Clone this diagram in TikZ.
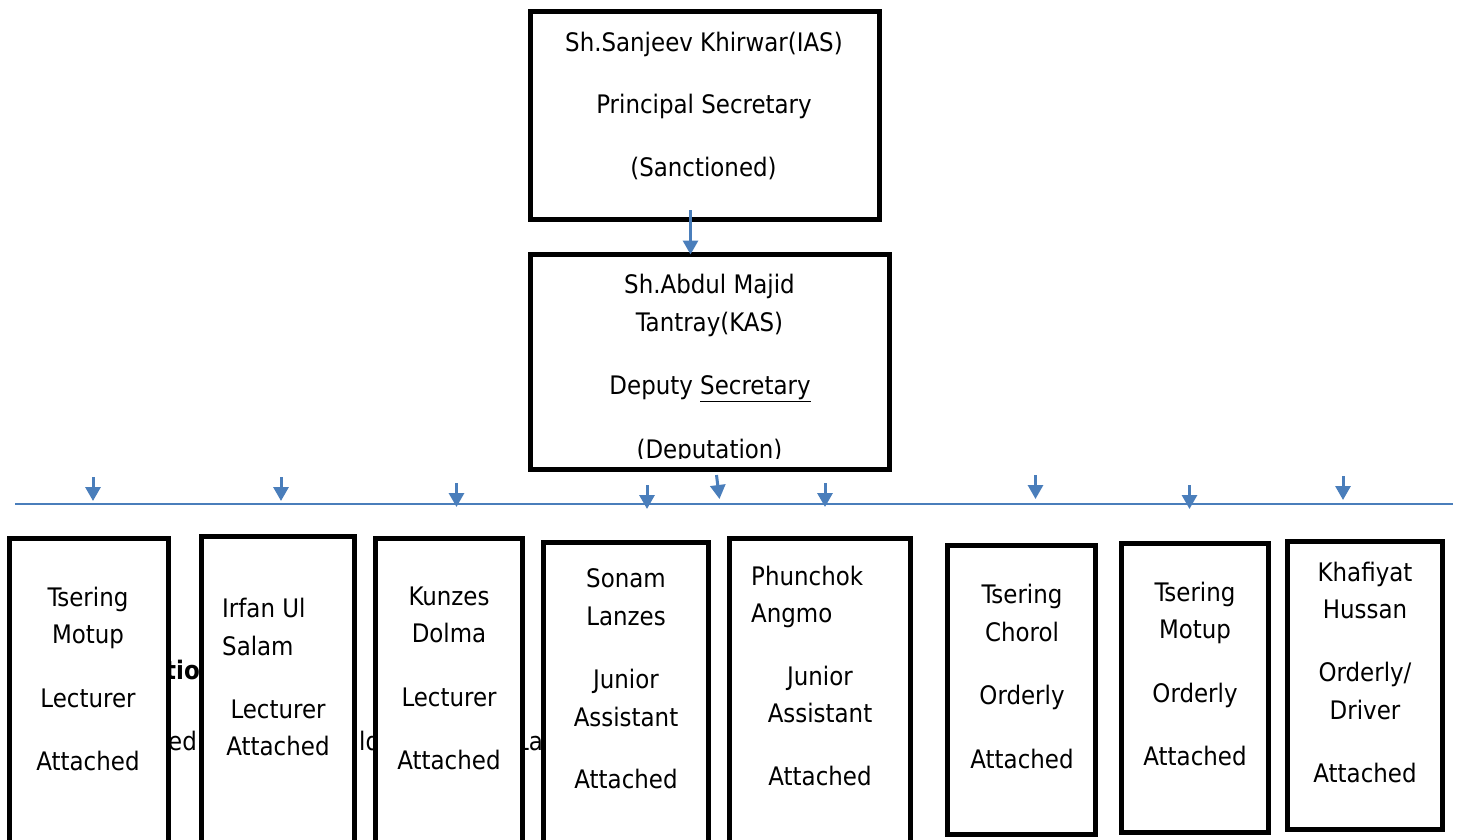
\documentclass[tikz,border=0pt]{standalone}
\usepackage{fontspec}
\setmainfont{DejaVu Sans Condensed}
\usetikzlibrary{arrows.meta,fit}
\definecolor{connblue}{RGB}{74,126,187}
\begin{document}
\begin{tikzpicture}[x=1pt,y=-1pt,
  box/.style={draw=black,line width=5pt,fill=white,inner sep=0pt,outer sep=0pt},
  txt/.style={inner sep=0pt,font=\fontsize{25.5}{30}\selectfont},
  frag/.style={inner sep=0pt,font=\fontsize{25.5}{30}\selectfont,anchor=base west},
  conn/.style={draw=connblue,line width=3pt,-{Triangle[width=15pt,length=14pt]}},
  bus/.style={draw=connblue,line width=2pt}
]
\clip (0,0) rectangle (1458,839);
\fill[white] (0,0) rectangle (1458,839);

% hidden background text fragments
\node[frag,font=\fontsize{25.5}{30}\selectfont\bfseries] (f1) at (165,679) {tio};
\node[frag] (f2) at (168,750) {ed};
\node[frag] (f3) at (359,750) {ld};
\node[frag] (f4) at (516,750) {La};

% top boxes
\node[box,minimum width=349.5pt,minimum height=208pt] (ps) at (704.75,115.5) {};
\node[txt,anchor=base] (ps1) at (704,51) {Sh.Sanjeev Khirwar(IAS)};
\node[txt,anchor=base] (ps2) at (704,113) {Principal Secretary};
\node[txt,anchor=base] (ps3) at (703.5,176) {(Sanctioned)};

\node[box,minimum width=358.5pt,minimum height=215pt] (ds) at (709.75,362) {};
\node[txt,anchor=base] (ds1) at (709.5,293) {Sh.Abdul Majid};
\node[txt,anchor=base] (ds2) at (709.5,331) {Tantray(KAS)};
\node[txt,anchor=base] (ds3) at (710,394) {Deputy \underline{Secretary}};
\begin{scope}
\clip (533,257) rectangle (887,458.5);
\node[txt,anchor=base] (ds4) at (709.5,458) {(Deputation)};
\end{scope}

% main connector
\coordinate (pss) at (690.5,210);
\draw[conn] (pss) -- (pss |- ds.north);

% bus line
\coordinate (busw) at (15,504);
\coordinate (buse) at (1453,504);
\draw[bus] (busw) -- (buse);

% small arrows
\foreach \n/\xa/\ya/\xb/\yb in {1/93/477/93/501,2/281/477/281/501,3/456.5/483/456.5/507,4/647/485/647/509,5/716.5/475/719.5/499,6/825/483/825/507,7/1035.5/475/1035.5/499,8/1189.5/485/1189.5/509,9/1343/476/1343/500}{
  \coordinate (a\n s) at (\xa,\ya);
  \coordinate (a\n e) at (\xb,\yb);
  \draw[conn] (a\n s) -- (a\n e);
}

% lower boxes
\node[box,minimum width=159pt,minimum height=331.5pt] (b1) at (89,704.25) {};
\node[box,minimum width=153pt,minimum height=333.5pt] (b2) at (278,703.25) {};
\node[box,minimum width=147.5pt,minimum height=331.5pt] (b3) at (448.75,704.25) {};
\node[box,minimum width=165pt,minimum height=327.5pt] (b4) at (626,706.25) {};
\node[box,minimum width=181pt,minimum height=331.5pt] (b5) at (820,704.25) {};
\node[box,minimum width=148pt,minimum height=289pt] (b6) at (1021.5,690) {};
\node[box,minimum width=147pt,minimum height=288.5pt] (b7) at (1195,687.75) {};
\node[box,minimum width=155pt,minimum height=287.5pt] (b8) at (1365,685.25) {};

% box 1
\node[txt,anchor=base] (b1a) at (88,606) {Tsering};
\node[txt,anchor=base] (b1b) at (88,643) {Motup};
\node[txt,anchor=base] (b1c) at (88,707) {Lecturer};
\node[txt,anchor=base] (b1d) at (88,770) {Attached};
% box 2
\node[txt,anchor=base west] (b2a) at (222,617) {Irfan Ul};
\node[txt,anchor=base west] (b2b) at (222,655) {Salam};
\node[txt,anchor=base] (b2c) at (278,718) {Lecturer};
\node[txt,anchor=base] (b2d) at (278,755) {Attached};
% box 3
\node[txt,anchor=base] (b3a) at (449,605) {Kunzes};
\node[txt,anchor=base] (b3b) at (449,642) {Dolma};
\node[txt,anchor=base] (b3c) at (449,706) {Lecturer};
\node[txt,anchor=base] (b3d) at (449,769) {Attached};
% box 4
\node[txt,anchor=base] (b4a) at (626,587) {Sonam};
\node[txt,anchor=base] (b4b) at (626,625) {Lanzes};
\node[txt,anchor=base] (b4c) at (626,688) {Junior};
\node[txt,anchor=base] (b4d) at (626,726) {Assistant};
\node[txt,anchor=base] (b4e) at (626,788) {Attached};
% box 5
\node[txt,anchor=base west] (b5a) at (751,585) {Phunchok};
\node[txt,anchor=base west] (b5b) at (751,622) {Angmo};
\node[txt,anchor=base] (b5c) at (820,685) {Junior};
\node[txt,anchor=base] (b5d) at (820,722) {Assistant};
\node[txt,anchor=base] (b5e) at (820,785) {Attached};
% box 6
\node[txt,anchor=base] (b6a) at (1022,603) {Tsering};
\node[txt,anchor=base] (b6b) at (1022,641) {Chorol};
\node[txt,anchor=base] (b6c) at (1022,704) {Orderly};
\node[txt,anchor=base] (b6d) at (1022,768) {Attached};
% box 7
\node[txt,anchor=base] (b7a) at (1195,601) {Tsering};
\node[txt,anchor=base] (b7b) at (1195,638) {Motup};
\node[txt,anchor=base] (b7c) at (1195,702) {Orderly};
\node[txt,anchor=base] (b7d) at (1195,765) {Attached};
% box 8
\node[txt,anchor=base] (b8a) at (1365,581) {Khafiyat};
\node[txt,anchor=base] (b8b) at (1365,618) {Hussan};
\node[txt,anchor=base] (b8c) at (1365,681) {Orderly/};
\node[txt,anchor=base] (b8d) at (1365,719) {Driver};
\node[txt,anchor=base] (b8e) at (1365,782) {Attached};
\end{tikzpicture}
\end{document}
